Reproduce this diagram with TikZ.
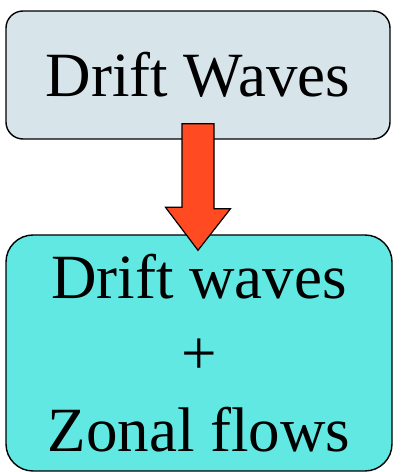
\documentclass[tikz,border=0pt]{standalone}
\usepackage{fontspec}
\setmainfont{Liberation Serif}
\usetikzlibrary{calc}

\definecolor{wavegray}{HTML}{D7E4EA}
\definecolor{flowcyan}{HTML}{62E8E2}
\definecolor{arroworange}{HTML}{FF4A22}

\begin{document}
\begin{tikzpicture}[
    x=1pt, y=1pt,
    stage/.style={rectangle, draw=black, line width=1.4pt,
        inner sep=0pt, align=center,
        font=\fontsize{63}{76.5}\selectfont},
    blockarrow/.style={draw=black, line width=1.2pt, fill=arroworange,
        line join=miter}
]
    \useasboundingbox (0,0) rectangle (400,472);
    \node[stage, fill=wavegray, rounded corners=17pt,
        minimum width=384pt, minimum height=128pt] (drift) at (198,397) {Drift Waves};
    \node[stage, fill=flowcyan, rounded corners=27pt,
        minimum width=386pt, minimum height=236pt] (both) at (199,119)
        {Drift waves\\+\\Zonal flows};
    \coordinate (tip) at ($(drift.south |- both.north)+(0,-16)$);
    \draw[blockarrow] ($(drift.south)+(-16,16)$) -- ++(32,0) -- ++(0,-85)
        -- ++(16.5,0) -- (tip) -- ($(tip)+(-32.5,43)$) -- ++(16.5,0) -- cycle;
\end{tikzpicture}
\end{document}
